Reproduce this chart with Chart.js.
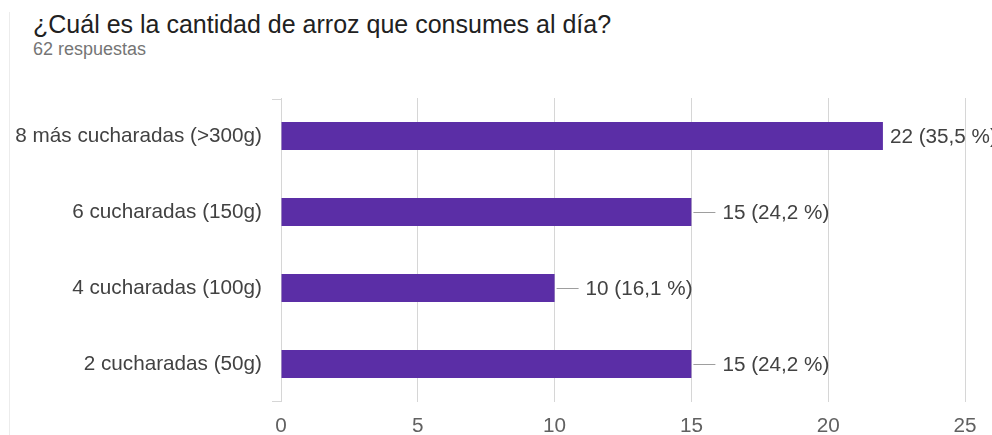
<!DOCTYPE html>
<html>
<head>
<meta charset="utf-8">
<script src="https://cdn.jsdelivr.net/npm/chart.js@4/dist/chart.umd.min.js"></script>
<style>
  html, body { margin: 0; padding: 0; background: #fff; }
  .card { position: relative; width: 992px; height: 435px; overflow: hidden; }
  .edge { position: absolute; left: 9px; top: 12px; bottom: 0; border-left: 1px solid #ececec; }
  .title { position: absolute; left: 33px; top: 12px; font: 25px/1 "Liberation Sans", Arial, sans-serif; color: #212121; white-space: nowrap; }
  .subtitle { position: absolute; left: 33px; top: 40px; font: 18px/1 "Liberation Sans", Arial, sans-serif; color: #757575; white-space: nowrap; }
  canvas { position: absolute; left: 0; top: 0; }
</style>
</head>
<body>
<div class="card">
  <div class="edge"></div>
  <div class="title">¿Cuál es la cantidad de arroz que consumes al día?</div>
  <div class="subtitle" id="subtitle"></div>
  <canvas id="chart" width="992" height="435"></canvas>
</div>
<script>
const categories = ['8 más cucharadas (>300g)', '6 cucharadas (150g)', '4 cucharadas (100g)', '2 cucharadas (50g)'];
const counts = [22, 15, 10, 15];
const xTicks = [0, 5, 10, 15, 20, 25];

const total = counts.reduce((a, b) => a + b, 0);
document.getElementById('subtitle').textContent = total + ' respuestas';

const FONT = '"Liberation Sans", Arial, sans-serif';
const SIZE = 20.7;

// value labels: "n (p %)" with a short leader line when there is room
const valueLabels = {
  id: 'valueLabels',
  afterDatasetsDraw(chart) {
    const ctx = chart.ctx;
    const meta = chart.getDatasetMeta(0);
    ctx.save();
    ctx.font = SIZE + 'px ' + FONT;
    ctx.textBaseline = 'middle';
    ctx.fillStyle = '#424242';
    meta.data.forEach((bar, i) => {
      const v = counts[i];
      const pct = (v / total * 100).toFixed(1).replace('.', ',');
      const text = v + ' (' + pct + ' %)';
      const w = ctx.measureText(text).width;
      const end = bar.x;
      if (end + 31 + w > chart.chartArea.right) {
        ctx.fillText(text, end + 7, bar.y + 1);
      } else {
        ctx.strokeStyle = '#9e9e9e';
        ctx.lineWidth = 1;
        ctx.beginPath();
        ctx.moveTo(end + 2, Math.round(bar.y) + 0.5);
        ctx.lineTo(end + 24, Math.round(bar.y) + 0.5);
        ctx.stroke();
        ctx.fillText(text, end + 31, bar.y + 1);
      }
    });
    ctx.restore();
  },
  beforeDatasetsDraw(chart) {
    // small stubs at both ends of the baseline
    const { ctx, chartArea } = chart;
    ctx.save();
    ctx.strokeStyle = '#d6d6d6';
    ctx.lineWidth = 1;
    ctx.beginPath();
    ctx.moveTo(chartArea.left - 9, chartArea.top + 1.5);
    ctx.lineTo(chartArea.left, chartArea.top + 1.5);
    ctx.moveTo(chartArea.left - 9, chartArea.bottom - 0.5);
    ctx.lineTo(chartArea.left, chartArea.bottom - 0.5);
    ctx.stroke();
    ctx.restore();
  }
};

new Chart(document.getElementById('chart'), {
  type: 'bar',
  data: {
    labels: categories,
    datasets: [{
      data: counts,
      backgroundColor: '#5b2ea6',
      borderWidth: 0,
      barPercentage: 0.37,
      categoryPercentage: 1
    }]
  },
  options: {
    indexAxis: 'y',
    responsive: false,
    animation: false,
    events: [],
    layout: { padding: { top: 98, right: 27, bottom: 0, left: 0 } },
    plugins: { legend: { display: false }, tooltip: { enabled: false } },
    scales: {
      x: {
        min: 0,
        max: 25,
        afterBuildTicks: (axis) => { axis.ticks = xTicks.map(v => ({ value: v })); },
        afterFit: (axis) => { axis.height = 33; },
        grid: { color: '#d6d6d6', drawTicks: false },
        border: { display: false },
        ticks: { padding: 12, color: '#616161', font: { family: FONT, size: SIZE } }
      },
      y: {
        afterFit: (axis) => { axis.width = 281; },
        grid: { display: false, drawTicks: false },
        border: { display: false },
        ticks: { padding: 19, color: '#424242', font: { family: FONT, size: SIZE } }
      }
    }
  },
  plugins: [valueLabels]
});
</script>
</body>
</html>
